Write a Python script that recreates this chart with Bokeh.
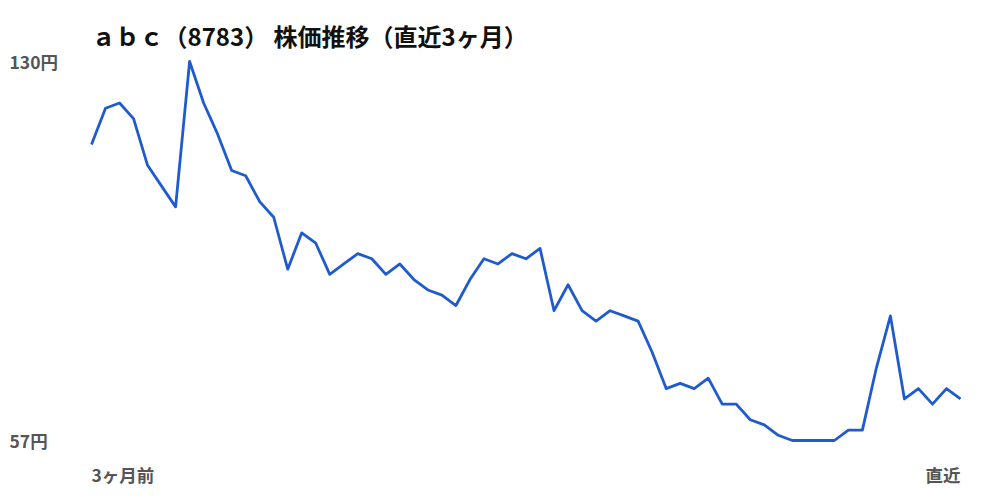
from bokeh.plotting import figure
from bokeh.models import Label, Range1d
from bokeh.embed import file_html
from bokeh.resources import INLINE

title_text = "ａｂｃ（8783） 株価推移（直近3ヶ月）"
start_label = "3ヶ月前"
end_label = "直近"
prices = [114, 121, 122, 119, 110, 106, 102, 130, 122, 116,
          109, 108, 103, 100, 90, 97, 95, 89, 91, 93,
          92, 89, 91, 88, 86, 85, 83, 88, 92, 91,
          93, 92, 94, 82, 87, 82, 80, 82, 81, 80,
          74, 67, 68, 67, 69, 64, 64, 61, 60, 58,
          57, 57, 57, 57, 59, 59, 71, 81, 65, 67,
          64, 67, 65]
days = list(range(len(prices)))

# layout (pixels)
W, H = 990, 490
PL, PR, PT, PB = 91, 960, 61, 440   # plotting area of the line
ymax, ymin = max(prices), min(prices)
px_per_day = (PR - PL) / (days[-1] - days[0])
px_per_yen = (PB - PT) / (ymax - ymin)

x_range = Range1d(days[0] - PL / px_per_day, days[-1] + (W - PR) / px_per_day)
y_range = Range1d(ymin - (H - PB) / px_per_yen, ymax + PT / px_per_yen)

p = figure(width=W, height=H, output_backend="svg", toolbar_location=None,
           x_axis_type=None, y_axis_type=None, min_border=0,
           x_range=x_range, y_range=y_range)
p.outline_line_color = None
p.grid.visible = False

p.line(days, prices, line_color="#1f5bcf", line_width=2.8, line_join="round")

font = "Noto Sans CJK JP"

p.add_layout(Label(x=PL, y=H - 35, x_units="screen", y_units="screen",
                   text=title_text, text_font=font, text_font_size="24px",
                   text_font_style="bold", text_color="#111111",
                   text_baseline="middle", text_align="left"))

for v in (ymax, ymin):
    p.add_layout(Label(x=9, y=v, x_units="screen", y_units="data",
                       text=f"{v}円", text_font=font, text_font_size="17.5px",
                       text_font_style="bold", text_color="#555555",
                       text_baseline="middle", text_align="left"))

p.add_layout(Label(x=days[0], y=16, y_units="screen",
                   text=start_label, text_font=font, text_font_size="17.5px",
                   text_font_style="bold", text_color="#555555",
                   text_baseline="middle", text_align="left"))
p.add_layout(Label(x=days[-1], y=16, y_units="screen",
                   text=end_label, text_font=font, text_font_size="17.5px",
                   text_font_style="bold", text_color="#555555",
                   text_baseline="middle", text_align="right"))

open("out.html", "w").write(file_html(p, INLINE))
